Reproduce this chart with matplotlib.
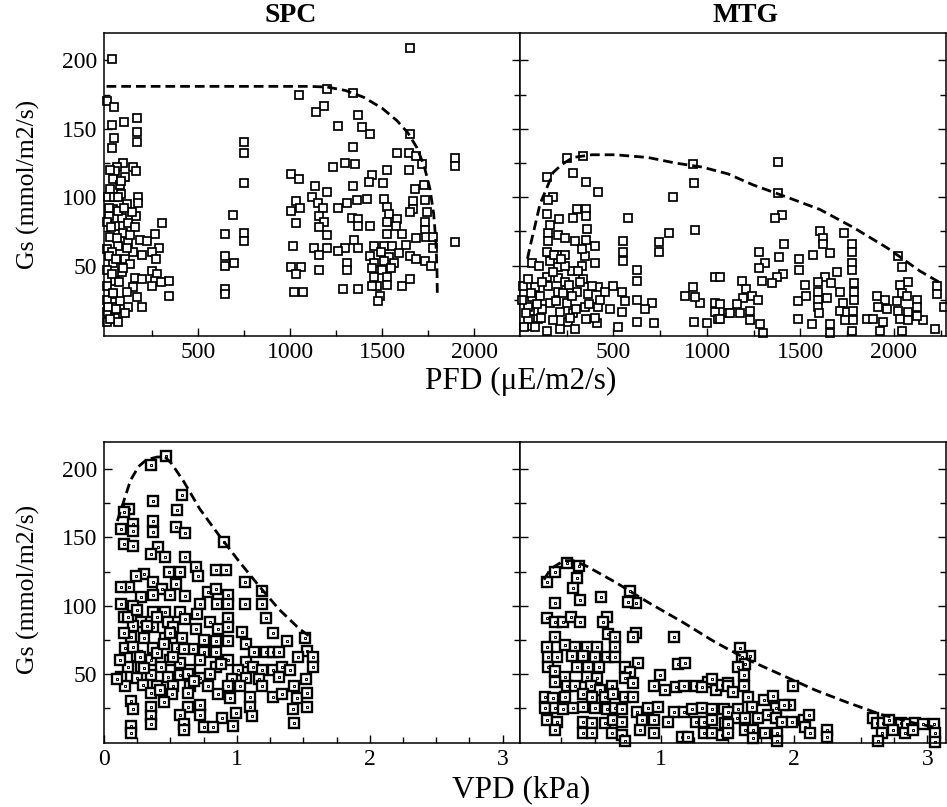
import matplotlib
matplotlib.use("Agg")
import matplotlib.pyplot as plt

plt.rcParams["font.family"] = ["Liberation Serif", "DejaVu Serif"]
plt.rcParams["mathtext.fontset"] = "stix"

# ---------------- data ----------------
# SPC, Gs vs PFD
spc_pfd_pts = [
    (32, 201), (0, 170), (43, 166), (165, 158), (96, 155), (32, 153), (165, 148), (165, 140),
    (43, 143), (27, 136), (90, 125), (58, 122), (144, 122), (160, 119), (48, 119), (101, 115),
    (37, 113), (74, 109), (21, 106), (80, 102), (170, 100), (170, 96), (112, 95), (37, 91),
    (11, 86), (160, 86), (85, 85), (303, 81), (117, 81), (5, 82), (48, 79), (154, 78), (90, 74),
    (261, 73), (21, 71), (181, 69), (218, 68), (117, 67), (287, 63), (250, 60), (64, 64),
    (144, 60), (5, 62), (192, 58), (101, 55), (271, 55), (37, 52), (128, 51), (5, 47), (245, 46),
    (85, 45), (277, 44), (154, 41), (192, 40), (340, 39), (261, 39), (298, 38), (48, 39), (5, 35),
    (144, 34), (250, 35), (112, 31), (340, 28), (37, 29), (165, 27), (5, 25), (74, 24), (192, 20),
    (117, 20), (32, 20), (101, 15), (5, 16), (48, 12), (5, 9), (64, 9), (21, 11),
    (10, 100), (15, 92), (25, 78), (30, 60), (12, 57), (28, 44), (50, 55), (55, 70), (42, 100),
    (60, 90), (20, 120), (35, 30), (8, 20), (50, 18), (70, 38), (90, 48), (110, 63), (130, 72),
    (140, 89), (95, 92), (65, 100), (80, 112),
    (750, 140), (750, 132), (750, 110), (686, 87), (750, 74), (750, 68), (644, 73), (644, 57),
    (644, 50), (691, 52), (644, 33), (644, 29),
    (1649, 209), (1048, 175), (1197, 179), (1340, 176), (1181, 167), (1138, 162), (1367, 160),
    (1261, 152), (1388, 151), (1431, 146), (1649, 146), (1340, 137), (1580, 132), (1644, 132),
    (1686, 130), (1894, 129), (1894, 123), (1298, 125), (1351, 124), (1234, 122), (1644, 120),
    (1718, 124), (1527, 120), (1005, 117), (1048, 113), (1447, 116), (1426, 111), (1505, 110),
    (1340, 108), (1729, 109), (1133, 108), (1197, 104), (1681, 106), (1117, 100), (1032, 97),
    (1415, 99), (1362, 98), (1511, 99), (1734, 98), (1149, 96), (1309, 96), (1670, 97),
    (1005, 90), (1053, 92), (1176, 92), (1261, 92), (1527, 93), (1665, 91), (1745, 89),
    (1649, 89), (1335, 85), (1537, 88), (1580, 84), (1154, 86), (1032, 81), (1181, 82),
    (1367, 84), (1527, 82), (1734, 82), (1367, 79), (1431, 79), (1154, 78), (1575, 79),
    (1734, 76), (1202, 72), (1527, 73), (1607, 73), (1686, 70), (1739, 71), (1777, 71),
    (1894, 67), (1016, 64), (1346, 69), (1298, 63), (1367, 63), (1128, 63), (1202, 63),
    (1261, 61), (1154, 58), (1458, 64), (1511, 64), (1553, 64), (1628, 65), (1777, 63),
    (1431, 57), (1495, 60), (1537, 56), (1591, 59), (1654, 57), (1686, 55), (1734, 53),
    (1309, 52), (1458, 52), (1511, 53), (1564, 52), (1766, 50), (1005, 49), (1058, 49),
    (1154, 47), (1309, 47), (1447, 48), (1500, 47), (1548, 48), (1032, 44), (1458, 42),
    (1527, 42), (1607, 35), (1654, 40), (1473, 35), (1527, 36), (1442, 35), (1021, 31),
    (1069, 31), (1287, 33), (1367, 33), (1489, 28), (1479, 24),
]
spc_pfd_curve_x = [0, 1100, 1200, 1300, 1400, 1500, 1580, 1640, 1690, 1730, 1760, 1780, 1792, 1798, 1800]
spc_pfd_curve_y = [181, 181, 180.5, 178, 173, 165, 156, 147, 136, 122, 106, 88, 68, 48, 30]

# MTG, Gs vs PFD
mtg_pfd_pts = [
    (251, 129), (337, 130), (144, 115), (283, 118), (353, 111), (417, 104), (177, 100), (150, 98),
    (926, 124), (931, 110), (819, 100), (305, 91), (353, 91), (144, 88), (209, 84), (283, 85),
    (353, 86), (578, 85), (358, 77), (150, 74), (203, 72), (936, 76), (797, 74), (294, 68),
    (353, 69), (150, 68), (551, 68), (744, 67), (401, 64), (744, 60), (551, 60), (551, 53),
    (144, 60), (198, 58), (348, 57), (241, 58), (160, 53), (64, 52), (332, 50), (401, 52),
    (203, 49), (278, 46), (626, 47), (626, 39), (1043, 42), (144, 42), (203, 41), (337, 40),
    (241, 38), (80, 34), (150, 35), (417, 34), (497, 35), (926, 34), (305, 31), (203, 31),
    (364, 29), (455, 31), (546, 31), (883, 28), (107, 28), (64, 27), (562, 24), (626, 25),
    (706, 23), (963, 23), (1043, 23), (1113, 15), (160, 23), (251, 23), (348, 20), (417, 20),
    (481, 18), (118, 18), (54, 17), (669, 18), (1043, 16), (214, 16), (283, 15), (546, 16),
    (936, 27), (96, 11), (177, 10), (257, 9), (353, 11), (412, 8), (626, 9), (717, 8), (931, 9),
    (1000, 8), (1059, 11), (64, 6), (144, 2), (214, 4), (294, 4), (524, 5), (43, 11), (43, 20),
    (91, 22), (278, 28), (385, 35), (177, 45), (310, 46), (241, 50),
    (20, 5), (30, 15), (10, 25), (60, 30), (80, 5), (110, 12), (15, 35), (45, 40), (120, 38),
    (190, 24), (230, 30), (260, 36), (300, 18), (320, 38), (370, 22), (400, 12), (430, 25),
    (270, 12), (180, 58), (160, 80), (240, 70), (330, 62), (100, 50), (220, 55),
    (1380, 126), (1380, 103), (1401, 87), (1364, 85), (1604, 75), (1733, 74), (1620, 70),
    (1620, 66), (1776, 66), (1412, 66), (1278, 60), (1776, 60), (1658, 59), (1567, 58),
    (1385, 56), (2021, 57), (1492, 55), (1310, 52), (1776, 52), (2043, 49), (1278, 48),
    (1492, 47), (1696, 45), (1776, 47), (1406, 44), (1375, 42), (1294, 39), (1348, 37),
    (1631, 42), (2230, 35), (2075, 38), (2032, 36), (1524, 36), (1594, 38), (1187, 39),
    (1663, 37), (1786, 37), (2230, 29), (1070, 42), (1208, 33), (1070, 22), (1070, 11),
    (1192, 26), (1241, 28), (1273, 25), (1160, 22), (1230, 17), (1123, 15), (1177, 15),
    (1230, 10), (1283, 7), (1300, 1), (1487, 24), (1529, 28), (1594, 31), (1594, 25),
    (1642, 26), (1711, 31), (1786, 31), (1786, 25), (1727, 23), (1594, 20), (1599, 15),
    (1711, 17), (1749, 16), (1781, 17), (1738, 10), (1781, 10), (1856, 11), (1909, 28),
    (1952, 25), (1915, 20), (1963, 18), (2016, 24), (2043, 30), (2070, 28), (2123, 25),
    (2123, 20), (2075, 16), (2021, 17), (2032, 11), (2075, 10), (2155, 10), (2123, 13),
    (1888, 11), (1941, 9), (2219, 4), (2265, 20), (1561, 7), (1658, 7), (1658, 1), (1487, 11),
    (2043, 2), (1925, 2), (1776, 2),
]
mtg_pfd_curve_x = [40, 54, 80, 107, 144, 177, 225, 283, 385, 508, 685, 829, 974, 1113, 1246,
                   1428, 1604, 1781, 1963, 2139, 2240]
mtg_pfd_curve_y = [55, 64, 79, 95, 107, 118, 124, 129, 131, 131, 129, 125, 122, 117, 109,
                   100, 91, 78, 63, 46, 38]

# SPC, Gs vs VPD
spc_vpd_pts = [
    (0.47, 210), (0.35, 203), (0.59, 181), (0.37, 177), (0.55, 170), (0.19, 171), (0.15, 169),
    (0.37, 162), (0.22, 160), (0.13, 156), (0.22, 155), (0.37, 154), (0.54, 158), (0.61, 153),
    (0.15, 145), (0.22, 144), (0.90, 147), (0.41, 143), (0.35, 138), (0.46, 136), (0.61, 136),
    (0.69, 128), (0.57, 125), (0.49, 125), (0.84, 126), (0.92, 126), (0.71, 122), (0.30, 123),
    (0.24, 122), (1.06, 117), (0.37, 117), (0.54, 116), (1.19, 111), (0.78, 110), (0.84, 112),
    (0.44, 112), (0.19, 114), (0.13, 114), (0.50, 108), (0.37, 108), (0.61, 107), (0.93, 108),
    (0.28, 106), (1.06, 101), (1.19, 101), (0.13, 101), (0.22, 100), (0.72, 101), (0.85, 101),
    (0.93, 101), (0.37, 95), (0.46, 95), (0.57, 95), (0.70, 94), (1.22, 91), (0.15, 92),
    (0.80, 88), (0.93, 91), (0.28, 88), (0.48, 88), (0.61, 90), (0.22, 85), (0.37, 84),
    (0.52, 84), (0.69, 83), (0.86, 83), (0.93, 84), (1.04, 81), (1.27, 80), (0.20, 77),
    (0.30, 76), (0.46, 76), (0.59, 76), (0.75, 75), (0.84, 74), (0.93, 74), (1.51, 76),
    (1.38, 74), (1.07, 72), (0.16, 69), (0.37, 69), (0.55, 69), (0.67, 68), (0.75, 66),
    (0.84, 66), (1.13, 66), (1.22, 66), (1.27, 66), (1.32, 66), (1.53, 67), (0.25, 63),
    (0.35, 60), (0.50, 60), (0.57, 58), (0.72, 60), (0.93, 60), (1.07, 59), (1.46, 62),
    (1.57, 62), (0.18, 55), (0.28, 55), (0.43, 55), (0.65, 53), (0.84, 55), (1.01, 53),
    (1.12, 55), (1.19, 53), (1.27, 53), (1.34, 55), (1.40, 53), (1.57, 55), (0.13, 48),
    (0.25, 47), (0.35, 49), (0.48, 48), (0.57, 49), (0.72, 47), (0.96, 46), (1.07, 47),
    (1.17, 46), (1.32, 48), (1.52, 46), (0.16, 41), (0.29, 42), (0.40, 41), (0.52, 41),
    (0.65, 41), (0.78, 41), (0.93, 41), (1.02, 41), (1.19, 41), (1.43, 41), (0.35, 36),
    (0.51, 35), (0.63, 36), (0.86, 35), (0.95, 32), (1.10, 33), (1.27, 33), (1.34, 35),
    (1.45, 32), (1.53, 36), (0.20, 30), (0.45, 29), (0.72, 27), (1.10, 26), (1.53, 26),
    (0.22, 24), (0.35, 26), (0.63, 26), (1.42, 24), (0.35, 19), (0.57, 20), (0.72, 20),
    (0.89, 18), (0.99, 21), (1.11, 19), (0.20, 12), (0.60, 13), (0.75, 11), (0.82, 11),
    (0.97, 12), (1.43, 14), (0.20, 7), (0.60, 9), (0.35, 13),
    (0.10, 46), (0.12, 60), (0.15, 80), (0.18, 92), (0.22, 70), (0.27, 62), (0.32, 85),
    (0.40, 65), (0.45, 72), (0.52, 62), (0.60, 68), (0.63, 50), (0.68, 45), (0.80, 50),
    (0.88, 57), (0.40, 92), (0.50, 80), (0.25, 97), (0.30, 54), (0.42, 38),
]
spc_vpd_curve_x = [0.10, 0.15, 0.20, 0.26, 0.32, 0.40, 0.46, 0.51, 0.60, 0.72, 0.87, 1.02,
                   1.17, 1.32, 1.47, 1.54]
spc_vpd_curve_y = [162, 177, 192, 202, 207, 209, 209, 204, 191, 171, 151, 132, 114, 97, 83, 78]

# MTG, Gs vs VPD
mtg_vpd_pts = [
    (0.14, 117), (0.20, 125), (0.29, 131), (0.38, 129), (0.37, 120), (0.34, 113), (0.77, 111),
    (0.81, 102), (0.75, 103), (0.20, 102), (0.39, 104), (0.55, 106), (0.14, 91), (0.20, 88),
    (0.26, 88), (0.32, 92), (0.39, 88), (0.59, 92), (0.56, 88), (0.20, 77), (0.60, 79),
    (0.65, 77), (0.81, 80), (0.79, 77), (1.10, 77), (0.14, 70), (0.28, 71), (0.35, 70),
    (0.44, 70), (0.52, 70), (0.65, 70), (0.15, 62), (0.22, 62), (0.33, 63), (0.41, 63),
    (0.50, 62), (0.59, 62), (0.65, 62), (0.83, 58), (1.13, 57), (1.18, 58), (0.15, 55),
    (0.20, 52), (0.37, 55), (0.45, 55), (0.53, 55), (0.73, 55), (0.77, 51), (0.99, 49),
    (0.28, 48), (0.44, 48), (0.52, 47), (0.73, 47), (0.20, 44), (0.29, 41), (0.35, 41),
    (0.47, 41), (0.54, 38), (0.63, 41), (0.79, 43), (0.95, 41), (1.03, 38), (1.11, 40),
    (1.17, 41), (1.26, 41), (1.35, 44), (1.41, 38), (0.13, 33), (0.19, 32), (0.28, 33),
    (0.41, 35), (0.48, 33), (0.58, 33), (0.64, 35), (0.73, 33), (0.79, 33), (0.13, 25),
    (0.20, 25), (0.26, 24), (0.34, 25), (0.41, 26), (0.50, 25), (0.59, 24), (0.65, 25),
    (0.71, 24), (0.82, 22), (0.90, 25), (0.98, 26), (1.10, 22), (1.17, 22), (1.23, 24),
    (1.31, 25), (1.38, 24), (1.47, 24), (0.14, 16), (0.22, 15), (0.41, 15), (0.48, 14),
    (0.58, 14), (0.64, 16), (0.71, 15), (0.86, 16), (0.95, 16), (1.05, 15), (1.26, 15),
    (1.32, 15), (1.38, 16), (1.48, 14), (0.20, 9), (0.41, 7), (0.48, 7), (0.63, 7), (0.71, 5),
    (0.84, 9), (0.95, 7), (1.16, 4), (1.20, 4), (1.32, 7), (1.38, 7), (1.46, 5), (0.73, 1),
    (1.31, 40), (1.38, 46), (1.46, 42), (1.50, 43),
    (1.59, 69), (1.67, 63), (1.61, 62), (1.63, 57), (1.58, 55), (1.62, 49), (1.99, 41),
    (1.62, 41), (1.50, 41), (1.54, 37), (1.65, 33), (1.77, 31), (1.84, 34), (1.97, 27),
    (1.58, 24), (1.68, 26), (1.86, 25), (1.92, 27), (1.50, 22), (1.57, 18), (1.63, 18),
    (1.73, 18), (1.80, 20), (1.86, 18), (1.91, 15), (1.98, 15), (2.07, 16), (2.11, 20),
    (1.50, 13), (1.63, 9), (1.69, 9), (1.78, 7), (1.87, 7), (2.08, 11), (2.12, 7), (1.50, 7),
    (2.25, 9), (2.25, 4), (1.87, 1), (1.69, 3), (2.59, 18), (2.62, 14), (2.67, 14),
    (2.71, 16), (2.80, 14), (2.85, 13), (2.91, 14), (2.97, 13), (3.05, 13), (2.66, 7),
    (2.74, 9), (2.83, 7), (2.89, 9), (3.06, 7), (3.06, 0), (2.63, 1),
]
mtg_vpd_curve_x = [0.12, 0.17, 0.27, 0.34, 0.44, 0.66, 0.91, 1.16, 1.41, 1.66, 1.91, 2.16,
                   2.40, 2.66, 2.90, 3.05]
mtg_vpd_curve_y = [119, 127, 133, 133, 129, 117, 102, 88, 73, 60, 49, 38, 29, 20, 14, 11]

gs_ticks = [50, 100, 150, 200]
gs_minor = [25, 75, 125, 175]
pfd_ticks = [500, 1000, 1500, 2000]
pfd_minor = [250, 750, 1250, 1750, 2250]
vpd_minor = [0.25, 0.5, 0.75, 1.25, 1.5, 1.75, 2.25, 2.5, 2.75, 3.0]

# ---------------- figure ----------------
fig = plt.figure(figsize=(9.47, 8.07), dpi=100)
fig.patch.set_facecolor("white")

ax_tl = fig.add_axes([0.1098, 0.5836, 0.4393, 0.3755])
ax_tr = fig.add_axes([0.5491, 0.5836, 0.4498, 0.3755])
ax_bl = fig.add_axes([0.1098, 0.0793, 0.4393, 0.3730])
ax_br = fig.add_axes([0.5491, 0.0793, 0.4498, 0.3730])

DASH = (0, (3.5, 1.8))


def style_axes(ax, show_ylabels):
    for sp in ax.spines.values():
        sp.set_linewidth(1.1)
    ax.set_yticks(gs_ticks)
    ax.set_yticks(gs_minor, minor=True)
    ax.tick_params(which="both", direction="in", left=True, right=True, top=False,
                   width=1.0, labelsize=17)
    ax.tick_params(axis="y", which="both", pad=5)
    ax.tick_params(axis="x", which="both", pad=4)
    ax.tick_params(which="major", length=6)
    ax.tick_params(which="minor", length=4)
    if not show_ylabels:
        ax.set_yticklabels([])


def plain_scatter(ax, pts, cx, cy):
    xs = [p[0] for p in pts]
    ys = [p[1] for p in pts]
    ax.plot(xs, ys, "s", ms=6.1, mfc="white", mec="black", mew=1.25, ls="none",
            clip_on=False, zorder=2)
    ax.plot(cx, cy, color="black", lw=2.0, ls=DASH, zorder=3)


def dotted_scatter(ax, pts, cx, cy):
    # squares with a small square in the middle
    for i, (x, y) in enumerate(pts):
        ax.plot([x], [y], "s", ms=6.8, mfc="white", mec="black", mew=1.7,
                clip_on=False, zorder=2 + i * 0.001)
        ax.plot([x], [y], "s", ms=2.0, mfc="white", mec="black", mew=0.7,
                clip_on=False, zorder=2 + i * 0.001 + 0.0005)
    ax.plot(cx, cy, color="black", lw=2.0, ls=DASH, zorder=3)


# top row: PFD
plain_scatter(ax_tl, spc_pfd_pts, spc_pfd_curve_x, spc_pfd_curve_y)
plain_scatter(ax_tr, mtg_pfd_pts, mtg_pfd_curve_x, mtg_pfd_curve_y)
ax_tl.set_xlim(-14, 2215)
ax_tr.set_xlim(0, 2278)
for ax in (ax_tl, ax_tr):
    ax.set_ylim(-1.5, 220)
    ax.set_xticks(pfd_ticks)
    ax.set_xticks(pfd_minor, minor=True)
style_axes(ax_tl, True)
style_axes(ax_tr, False)

# bottom row: VPD
dotted_scatter(ax_bl, spc_vpd_pts, spc_vpd_curve_x, spc_vpd_curve_y)
dotted_scatter(ax_br, mtg_vpd_pts, mtg_vpd_curve_x, mtg_vpd_curve_y)
ax_bl.set_xlim(0, 3.13)
ax_br.set_xlim(-0.06, 3.14)
for ax in (ax_bl, ax_br):
    ax.set_ylim(-0.7, 220)
    ax.set_xticks(vpd_minor, minor=True)
ax_bl.set_xticks([0, 1, 2, 3])
ax_br.set_xticks([1, 2, 3])
style_axes(ax_bl, True)
style_axes(ax_br, False)

# titles and labels
fig.text(0.307, 0.981, "SPC", ha="center", va="center", fontsize=20, fontweight="bold")
fig.text(0.787, 0.981, "MTG", ha="center", va="center", fontsize=20, fontweight="bold")
fig.text(0.55, 0.527, "PFD (\u03bcE/m2/s)", ha="center", va="center", fontsize=22.5)
fig.text(0.55, 0.021, "VPD (kPa)", ha="center", va="center", fontsize=22.5)
fig.text(0.030, 0.771, "Gs (mmol/m2/s)", ha="center", va="center", rotation=90, fontsize=18.5)
fig.text(0.030, 0.269, "Gs (mmol/m2/s)", ha="center", va="center", rotation=90, fontsize=18.5)

fig.savefig("out.png", dpi=100, facecolor="white")
